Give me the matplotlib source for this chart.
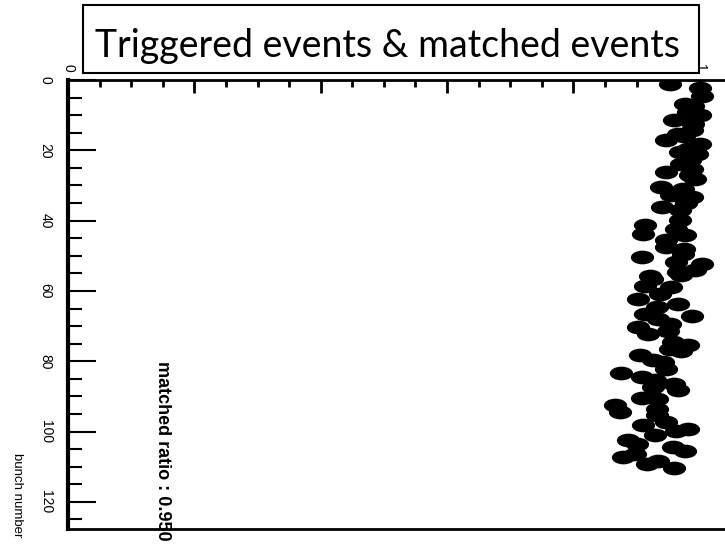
import numpy as np
import matplotlib
matplotlib.use("Agg")
from matplotlib import pyplot as plt
from matplotlib.path import Path
from matplotlib.transforms import Affine2D
from matplotlib.patches import Rectangle

# ----------
# event data: position of each matched event and its bunch number

event_x = [0.953, 1.000, 1.003, 0.976, 0.981, 1.000, 0.960, 0.989, 0.965, 0.987,
           0.946, 1.000, 0.968, 0.995, 0.984, 0.987, 0.946, 0.992, 0.939, 0.973,
           0.987, 0.955, 0.941, 0.968, 0.968, 0.913, 0.910, 0.946, 0.976, 0.947,
           0.973, 0.908, 0.963, 1.003, 0.992, 0.965, 0.921, 0.971, 0.924, 0.913,
           0.955, 0.937, 0.902, 0.966, 0.932, 0.987, 0.913, 0.934, 0.953, 0.902,
           0.918, 0.950, 0.958, 0.981, 0.971, 0.953, 0.905, 0.926, 0.942, 0.946,
           0.876, 0.908, 0.929, 0.960, 0.966, 0.926, 0.908, 0.932, 0.866, 0.873,
           0.932, 0.932, 0.946, 0.910, 0.929, 0.963, 0.981, 0.887, 0.900, 0.958,
           0.976, 0.879, 0.897, 0.916, 0.934, 0.960,
           0.990, 0.975, 0.982, 0.970, 0.985, 0.978, 0.962, 0.975]
bunch = [1.1, 2.3, 4.6, 6.7, 9.1, 10.0, 11.4, 12.5, 15.3, 14.2,
         17.1, 18.1, 20.5, 21.0, 22.8, 25.2, 26.2, 28.1, 30.4, 30.9,
         33.3, 32.7, 36.1, 37.0, 39.8, 41.3, 43.7, 45.5, 44.1, 47.5,
         49.4, 50.4, 51.8, 52.3, 54.1, 54.6, 55.8, 55.4, 56.5, 58.6,
         58.9, 60.8, 62.3, 63.6, 64.6, 67.1, 66.5, 67.9, 69.3, 70.3,
         72.2, 71.5, 74.5, 75.3, 77.2, 76.4, 78.3, 79.7, 80.2, 82.3,
         83.3, 84.5, 85.4, 86.4, 88.3, 87.3, 90.5, 90.7, 92.3, 94.5,
         93.5, 95.4, 97.3, 98.2, 101.1, 99.9, 99.2, 102.5, 103.5, 104.4,
         105.4, 107.3, 106.3, 109.2, 108.5, 110.4,
         7.5, 16.0, 19.5, 24.0, 27.0, 35.0, 42.5, 48.0]

matched_ratio = 0.950
title = "Triggered events & matched events"
# only the end labels of the top axis stick out from under the title box
x_ticklabels = ["0", "", "", "", "", "1"]
narrow = ["Liberation Sans Narrow", "Liberation Sans", "DejaVu Sans"]

# ----------
# figure setup

fig = plt.figure(figsize=(7.25, 5.45), dpi=100)
axes = fig.add_axes([0.0938, 0.0294, 0.9062, 0.8238])

# flat ellipse marker
oval = Path.unit_circle().transformed(Affine2D().scale(1.0, 0.59))
axes.scatter(event_x, bunch, s=280, marker=oval, c="black", linewidths=0)

axes.set_xlim(0, 1.04)
axes.set_ylim(127.7, 0)

axes.spines["right"].set_visible(False)
axes.spines["left"].set_linewidth(3)
axes.spines["top"].set_linewidth(2)
axes.spines["bottom"].set_linewidth(2)

axes.xaxis.tick_top()
axes.set_xticks(np.arange(0, 1.01, 0.2))
axes.set_xticks(np.arange(0, 1.01, 0.05), minor=True)
axes.set_xticklabels(x_ticklabels, rotation=-90, family=narrow, fontsize=10)
axes.set_yticks(np.arange(0, 121, 20))
axes.set_yticks(np.arange(0, 126, 5), minor=True)
axes.set_yticklabels([str(v) for v in range(0, 121, 20)], rotation=-90,
                     va="center", family=narrow, fontsize=10)

axes.tick_params(axis="x", which="major", direction="in", length=9.5, width=2, pad=6)
axes.tick_params(axis="x", which="minor", direction="in", length=5, width=2)
axes.tick_params(axis="y", which="major", direction="in", length=20, width=1.5, pad=11)
axes.tick_params(axis="y", which="minor", direction="in", length=10, width=1.5)

fig.text(0.024, 0.092, "bunch number", rotation=-90, ha="center", va="center",
         family=narrow, fontsize=9.5)
fig.text(0.224, 0.172, "matched ratio : %.3f" % matched_ratio, rotation=-90,
         ha="center", va="center", family=narrow, fontsize=13, fontweight="bold")

# title box over the top axis
fig.patches.append(Rectangle((0.1145, 0.866), 0.849, 0.125, transform=fig.transFigure,
                             facecolor="white", edgecolor="black", linewidth=1.5,
                             zorder=3))
fig.text(0.535, 0.915, title, ha="center", va="center", family=["Lato", "DejaVu Sans"],
         fontsize=27, zorder=4)

fig.savefig("out.png", dpi=100)
